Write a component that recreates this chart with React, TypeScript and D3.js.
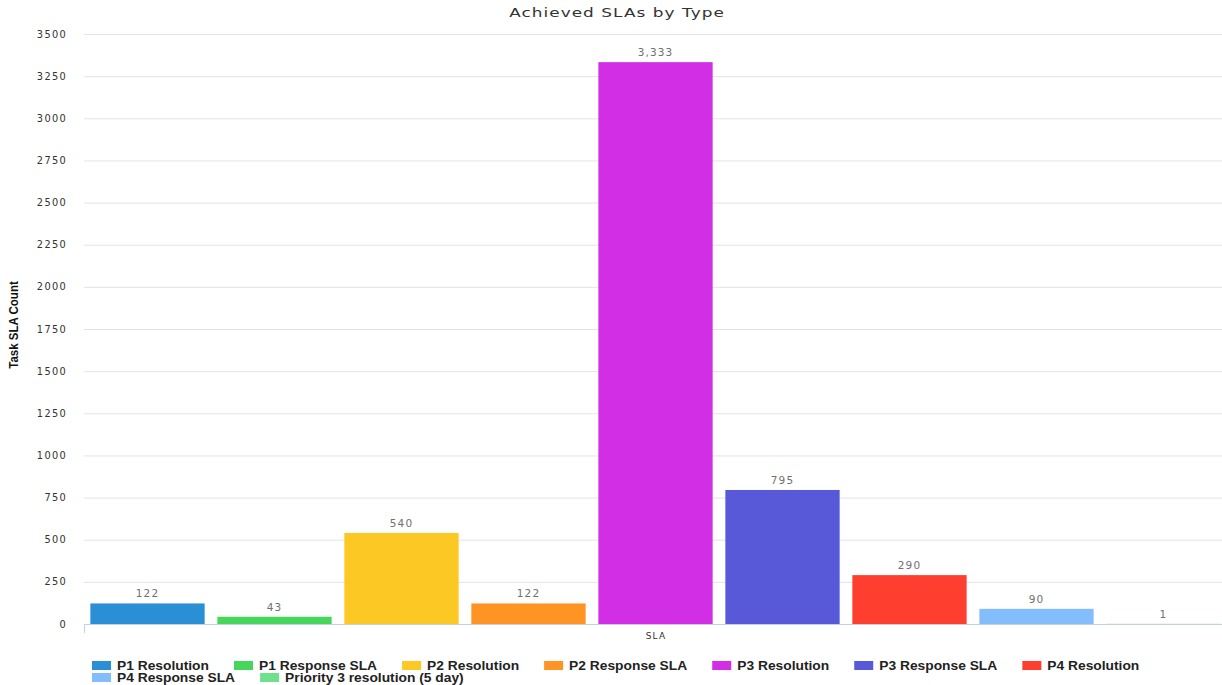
import React from "react";
import * as d3 from "d3";

// Series shown in the chart, one bar per SLA type
const categories = [
  "P1 Resolution",
  "P1 Response SLA",
  "P2 Resolution",
  "P2 Response SLA",
  "P3 Resolution",
  "P3 Response SLA",
  "P4 Resolution",
  "P4 Response SLA",
  "Priority 3 resolution (5 day)",
];
const values = [122, 43, 540, 122, 3333, 795, 290, 90, 1];
const colors = [
  "#2b8fd6",
  "#45d65b",
  "#fcc823",
  "#fd9423",
  "#d22ee6",
  "#5759d8",
  "#fe3f2f",
  "#84bdfc",
  "#6fe08c",
];
const yTicks = [0, 250, 500, 750, 1000, 1250, 1500, 1750, 2000, 2250, 2500, 2750, 3000, 3250, 3500];

const W = 1222;
const H = 685;
const plotLeft = 84;
const plotRight = 1227;
const plotTop = 34;
const plotBottom = 624;

const fmt = d3.format(",");

let measureCtx: CanvasRenderingContext2D | null = null;
function textWidth(text: string, font: string): number {
  if (!measureCtx) {
    measureCtx = document.createElement("canvas").getContext("2d");
  }
  if (!measureCtx) return text.length * 7;
  measureCtx.font = font;
  return measureCtx.measureText(text).width;
}

// Text stretched horizontally around its anchor point
function WideText(props: {
  x: number;
  y: number;
  sx: number;
  anchor?: string;
  children: React.ReactNode;
  style?: React.CSSProperties;
  fill?: string;
}) {
  const { x, y, sx, anchor = "start", children, style, fill } = props;
  return (
    <text
      transform={`translate(${x},${y}) scale(${sx},1)`}
      textAnchor={anchor}
      fill={fill}
      style={style}
    >
      {children}
    </text>
  );
}

export default function App() {
  const x = d3
    .scaleBand<string>()
    .domain(categories)
    .range([plotLeft, plotRight])
    .paddingInner(0.1)
    .paddingOuter(0.05);
  const y = d3.scaleLinear().domain([0, 3500]).range([plotBottom, plotTop]);

  // Legend flow layout
  const legendFontSize = 12;
  const legendSx = 1.15;
  const legendFont = `bold ${legendFontSize}px 'Liberation Sans', Arial, sans-serif`;
  const swatchW = 19;
  const swatchH = 9;
  const legendLeft = 92;
  const legendMax = 1212;
  const rowH = 12;
  const items: { name: string; color: string; x: number; row: number }[] = [];
  let cx = legendLeft;
  let row = 0;
  categories.forEach((name, i) => {
    const tw = textWidth(name, legendFont) * legendSx;
    const adv = swatchW + 6 + tw + 25;
    if (cx + swatchW + 6 + tw > legendMax && cx > legendLeft) {
      row += 1;
      cx = legendLeft;
    }
    items.push({ name, color: colors[i], x: cx, row });
    cx += adv;
  });

  const tickStyle: React.CSSProperties = {
    fontFamily: "'DejaVu Sans', sans-serif",
    fontSize: 9.8,
    letterSpacing: 1.3,
  };

  return (
    <svg
      width={W}
      height={H}
      style={{ position: "absolute", left: 0, top: 0, background: "#fff" }}
    >
      {/* title */}
      <WideText
        x={617}
        y={17}
        sx={1.3}
        anchor="middle"
        fill="#333"
        style={{ fontFamily: "'DejaVu Sans', sans-serif", fontSize: 13, letterSpacing: 0.8 }}
      >
        Achieved SLAs by Type
      </WideText>

      {/* grid lines and y tick labels */}
      {yTicks.map((t) => (
        <g key={t}>
          {t > 0 && (
            <line
              x1={plotLeft}
              x2={W}
              y1={y(t) + 0.5}
              y2={y(t) + 0.5}
              stroke="#e3e3e3"
              strokeWidth={1}
            />
          )}
          <text
            x={67}
            y={y(t) + 3.5}
            textAnchor="end"
            fill="#333"
            style={tickStyle}
          >
            {t}
          </text>
        </g>
      ))}

      {/* y axis title */}
      <text
        transform={`translate(18,325) rotate(-90) scale(0.92,1)`}
        textAnchor="middle"
        fill="#111"
        style={{
          fontFamily: "'Liberation Sans Narrow', 'Arial Narrow', 'Liberation Sans', sans-serif",
          fontSize: 12.5,
          fontWeight: "bold",
        }}
      >
        Task SLA Count
      </text>

      {/* bars */}
      {categories.map((c, i) => (
        <rect
          key={c}
          x={x(c)!}
          y={y(values[i])}
          width={x.bandwidth()}
          height={plotBottom - y(values[i])}
          fill={colors[i]}
        />
      ))}

      {/* value labels */}
      {categories.map((c, i) => (
        <text
          key={c}
          x={x(c)! + x.bandwidth() / 2}
          y={y(values[i]) - 6}
          textAnchor="middle"
          fill="#707070"
          style={{ fontFamily: "'DejaVu Sans', sans-serif", fontSize: 10.5, letterSpacing: 1.1 }}
        >
          {fmt(values[i])}
        </text>
      ))}

      {/* x axis baseline and tick */}
      <line x1={plotLeft} x2={W} y1={plotBottom + 0.5} y2={plotBottom + 0.5} stroke="#c9ced8" />
      <line x1={plotLeft + 0.5} x2={plotLeft + 0.5} y1={plotBottom} y2={plotBottom + 9} stroke="#c9ced8" />

      {/* x axis label */}
      <text
        x={656}
        y={639}
        textAnchor="middle"
        fill="#333"
        style={{ fontFamily: "'DejaVu Sans', sans-serif", fontSize: 9, letterSpacing: 1.2 }}
      >
        SLA
      </text>

      {/* legend */}
      {items.map((it) => (
        <g key={it.name}>
          <rect
            x={it.x}
            y={661 + it.row * rowH}
            width={swatchW}
            height={swatchH}
            fill={it.color}
          />
          <WideText
            x={it.x + swatchW + 6}
            y={669.5 + it.row * rowH}
            sx={legendSx}
            fill="#222"
            style={{
              fontFamily: "'Liberation Sans', Arial, sans-serif",
              fontSize: legendFontSize,
              fontWeight: "bold",
            }}
          >
            {it.name}
          </WideText>
        </g>
      ))}
    </svg>
  );
}
